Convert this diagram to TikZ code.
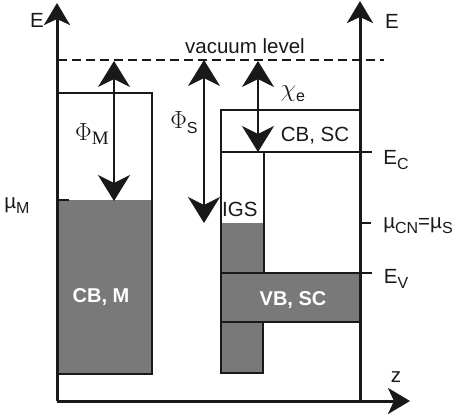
\documentclass[tikz,border=0pt]{standalone}
\usepackage{fontspec}
\setmainfont{Liberation Sans}
\newfontfamily\serifgr{Liberation Serif}
\usetikzlibrary{arrows.meta}
\newcommand\lowtxt[1]{\raisebox{-0.45ex}{\fontsize{16}{18}\selectfont #1}}
\begin{document}
\begin{tikzpicture}[x=1pt,y=-1pt,
  font=\fontsize{20.5}{24}\selectfont,
  lbl/.style={inner sep=0pt, text=black!90},
  wlbl/.style={inner sep=0pt, text=white, font=\fontsize{20}{24}\selectfont\bfseries},
  band/.style={fill=bandgray, draw=black!90, line width=2.2pt},
  bline/.style={draw=black!90, line width=2.2pt},
  axis/.style={draw=black!90, line width=3pt, -{Stealth[length=22pt,width=26pt,inset=6pt]}},
  dbl/.style={draw=black!90, line width=2.2pt, {Stealth[length=26pt,width=32pt,inset=8pt]}-{Stealth[length=26pt,width=32pt,inset=8pt]}},
  tick/.style={draw=black!90, line width=2.2pt}]
\definecolor{bandgray}{HTML}{797979}
\useasboundingbox (0,0) rectangle (456,415);
% coordinates
\coordinate (o) at (57,401);
\coordinate (etop) at (57,3);
\coordinate (zend) at (410,401);
\coordinate (rb) at (360,401);
\coordinate (rtop) at (360,1);
\coordinate (vacL) at (58,60);
\coordinate (vacR) at (384,60);
% metal
\fill[bandgray] (57,200) rectangle (152,374);
\draw[bline] (57,93) -- (152,93) -- (152,374) -- (57,374);
\draw[tick] (57,200) -- (69,200);
% semiconductor
\fill[bandgray] (221,223) rectangle (264,273);
\draw[bline] (221,110) rectangle (360,152);
\draw[bline] (221,152) -- (221,273);
\draw[bline] (264,152) -- (264,273);
\draw[band] (221,322) rectangle (263,373);
\draw[band] (221,273) rectangle (360,322);
\draw[tick] (360,152) -- (372,152);
\draw[tick] (360,223) -- (371,223);
\draw[tick] (360,273) -- (372,273);
% axes
\draw[axis] (o) -- (etop);
\draw[axis] (o) -- (zend);
\draw[axis] (rb) -- (rtop);
% vacuum level
\draw[draw=black!90, line width=2.2pt, dash pattern=on 9pt off 5pt] (vacL) -- (vacR);
% arrows
\coordinate (pmT) at (114,61);
\coordinate (pmB) at (114,201);
\coordinate (psT) at (204,60);
\coordinate (psB) at (204,223);
\coordinate (chT) at (258,61);
\coordinate (chB) at (258,152);
\draw[dbl] (pmT) -- (pmB);
\draw[dbl] (psT) -- (psB);
\draw[dbl] (chT) -- (chB);
% labels
\node[lbl] (eL) at (37,20) {E};
\node[lbl] (eR) at (392,21) {E};
\node[lbl] (vac) at (245,46) {vacuum level};
\node[lbl] (phim) at (92,134) {{\serifgr\fontsize{24}{26}\selectfont$\Phi$}\lowtxt{\serifgr\fontsize{19}{20}\selectfont M}};
\node[lbl] (phis) at (184,123) {{\serifgr\fontsize{24}{26}\selectfont$\Phi$}\lowtxt{S}};
\node[lbl] (chi) at (293,94) {{\serifgr\itshape\fontsize{24}{26}\selectfont $\chi$}\lowtxt{e}};
\node[lbl] (cbsc) at (315,136) {CB, SC};
\node[lbl] (ec) at (396,160) {E\lowtxt{C}};
\node[lbl, anchor=west] (igs) at (222,209) {IGS};
\node[lbl] (mus) at (418,226) {\textmu\lowtxt{CN}=\textmu\lowtxt{S}};
\node[lbl] (ev) at (396,279) {E\lowtxt{V}};
\node[wlbl] (vbsc) at (293,300) {VB, SC};
\node[wlbl] (cbm) at (101,297) {CB, M};
\node[lbl] (mum) at (17,206) {\textmu\lowtxt{M}};
\node[lbl] (z) at (396,377) {z};
\end{tikzpicture}
\end{document}
